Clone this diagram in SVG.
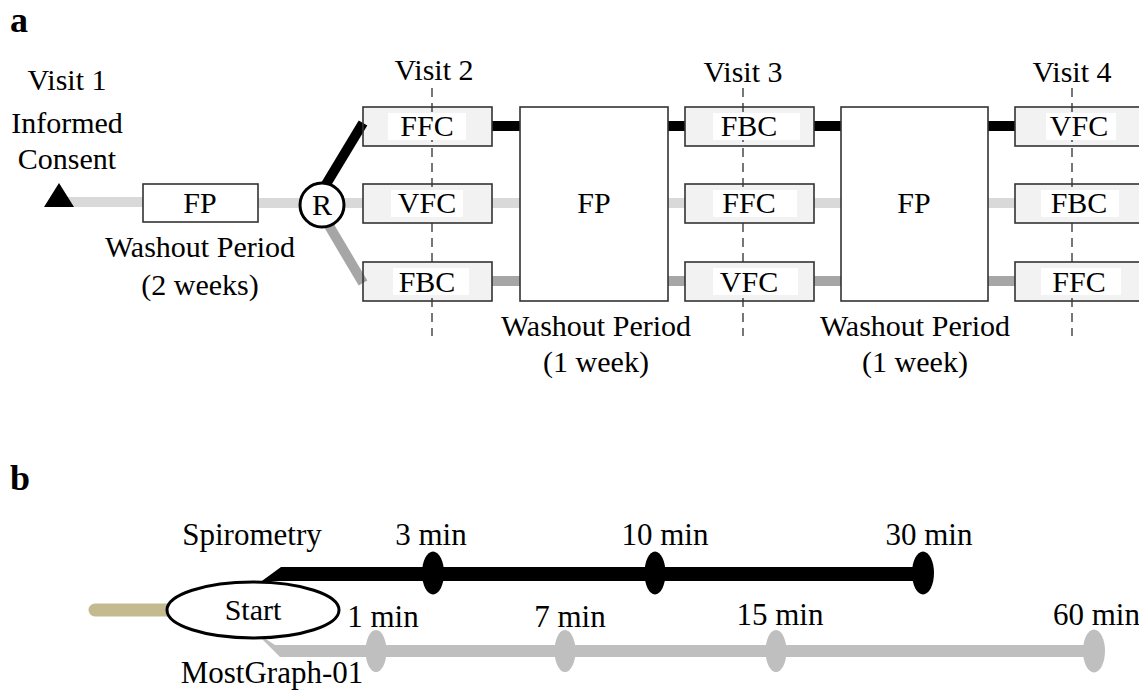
<svg xmlns="http://www.w3.org/2000/svg" width="1139" height="690" viewBox="0 0 1139 690">
<style>
text{font-family:"Liberation Serif","Times New Roman",serif;font-size:30px;fill:#000;text-anchor:middle}
.lbl{font-weight:bold;font-size:36px;text-anchor:start}
.tb{font-size:31px}
.box{fill:#000;fill-opacity:0.05;stroke:#333;stroke-width:1.6}
.big{fill:#fff;stroke:#333;stroke-width:1.6}
.inner{fill:#fff}
.dash{stroke:#555;stroke-width:1.6;stroke-dasharray:9 6;fill:none}
.lt{stroke:#d9d9d9;stroke-width:10;fill:none}
.bk{stroke:#000;stroke-width:10;fill:none}
.dg{stroke:#a6a6a6;stroke-width:10;fill:none}
</style>
<rect width="1139" height="690" fill="#fff"/>
<text class="lbl" x="10" y="32">a</text>
<text class="lbl" x="10" y="490">b</text>
<g id="guides">
<line class="dash" x1="432" y1="88" x2="432" y2="336"/>
<line class="dash" x1="743" y1="88" x2="743" y2="336"/>
<line class="dash" x1="1072" y1="88" x2="1072" y2="336"/>
</g>
<g id="connectors">
<line class="lt" x1="60" y1="202" x2="143" y2="202"/>
<line class="lt" x1="258" y1="203" x2="300" y2="203"/>
<line class="lt" x1="344" y1="203" x2="363" y2="203"/>
<line class="lt" x1="492" y1="203" x2="520" y2="203"/>
<line class="lt" x1="668" y1="203" x2="685" y2="203"/>
<line class="lt" x1="814" y1="203" x2="841" y2="203"/>
<line class="lt" x1="988" y1="203" x2="1015" y2="203"/>
<line class="bk" stroke-width="8" x1="325" y1="186" x2="363" y2="123"/>
<line class="bk" x1="492" y1="126" x2="520" y2="126"/>
<line class="bk" x1="668" y1="126" x2="685" y2="126"/>
<line class="bk" x1="814" y1="126" x2="841" y2="126"/>
<line class="bk" x1="988" y1="126" x2="1015" y2="126"/>
<line class="dg" stroke-width="8" x1="328" y1="224" x2="363" y2="283"/>
<line class="dg" x1="492" y1="281" x2="520" y2="281"/>
<line class="dg" x1="668" y1="281" x2="685" y2="281"/>
<line class="dg" x1="814" y1="281" x2="841" y2="281"/>
<line class="dg" x1="988" y1="281" x2="1015" y2="281"/>
<line x1="95" y1="610" x2="170" y2="610" stroke="#c4ba90" stroke-width="13" stroke-linecap="round"/>
<path d="M255 586 L281 567 L923 567 L923 581 L270 581 Z" fill="#000"/>
<path d="M255 632 L280 657 L1094 657 L1094 645 L275 645 Z" fill="#bfbfbf"/>
</g>
<g id="visit1">
<polygon points="44,207 74,207 59,183" fill="#000"/>
<text x="67" y="90">Visit 1</text>
<text x="67" y="133">Informed</text>
<text x="67" y="169">Consent</text>
</g>
<g id="fp0">
<rect class="big" x="143" y="184" width="115" height="38"/>
<text x="200" y="213">FP</text>
<text x="200" y="257">Washout Period</text>
<text x="200" y="295">(2 weeks)</text>
</g>
<g id="rand">
<circle cx="322" cy="205" r="22" fill="#fff" stroke="#000" stroke-width="3"/>
<text x="322" y="215" font-size="27">R</text>
</g>
<text x="434" y="80">Visit 2</text>
<text x="743" y="82">Visit 3</text>
<text x="1072" y="82">Visit 4</text>
<g id="v2-ffc"><rect class="box" x="363" y="107" width="129" height="39"/><rect class="inner" x="388" y="113" width="78" height="27"/><text x="427" y="136">FFC</text></g>
<g id="v2-vfc"><rect class="box" x="363" y="184" width="129" height="39"/><rect class="inner" x="391" y="190" width="72" height="27"/><text x="427" y="213">VFC</text></g>
<g id="v2-fbc"><rect class="box" x="363" y="262" width="129" height="39"/><rect class="inner" x="393" y="268" width="76" height="27"/><text x="427" y="292">FBC</text></g>
<g id="fp1">
<rect class="big" x="520" y="107" width="148" height="194"/>
<text x="594" y="213">FP</text>
<text x="596" y="336">Washout Period</text>
<text x="596" y="372">(1 week)</text>
</g>
<g id="v3-fbc"><rect class="box" x="685" y="107" width="129" height="39"/><rect class="inner" x="713" y="113" width="87" height="27"/><text x="749" y="136">FBC</text></g>
<g id="v3-ffc"><rect class="box" x="685" y="184" width="129" height="39"/><rect class="inner" x="713" y="190" width="84" height="27"/><text x="749" y="213">FFC</text></g>
<g id="v3-vfc"><rect class="box" x="685" y="262" width="129" height="39"/><rect class="inner" x="713" y="268" width="85" height="27"/><text x="749" y="292">VFC</text></g>
<g id="fp2">
<rect class="big" x="841" y="107" width="147" height="194"/>
<text x="914" y="213">FP</text>
<text x="915" y="336">Washout Period</text>
<text x="915" y="372">(1 week)</text>
</g>
<g id="v4-vfc"><rect class="box" x="1015" y="107" width="129" height="39"/><rect class="inner" x="1046" y="113" width="70" height="27"/><text x="1079" y="136">VFC</text></g>
<g id="v4-fbc"><rect class="box" x="1015" y="184" width="129" height="39"/><rect class="inner" x="1041" y="190" width="78" height="27"/><text x="1079" y="213">FBC</text></g>
<g id="v4-ffc"><rect class="box" x="1015" y="262" width="129" height="39"/><rect class="inner" x="1041" y="268" width="80" height="27"/><text x="1079" y="292">FFC</text></g>
<g id="start">
<ellipse cx="253" cy="610" rx="86" ry="28" fill="#fff" stroke="#000" stroke-width="3"/>
<text x="253" y="620">Start</text>
</g>
<text class="tb" x="252" y="545">Spirometry</text>
<text class="tb" x="272" y="683">MostGraph-01</text>
<g id="s3"><ellipse cx="433" cy="573" rx="11" ry="21.5" fill="#000"/><text class="tb" x="431" y="545">3 min</text></g>
<g id="s10"><ellipse cx="655" cy="573" rx="10.5" ry="21.5" fill="#000"/><text class="tb" x="665" y="545">10 min</text></g>
<g id="s30"><ellipse cx="923" cy="573" rx="11" ry="21.5" fill="#000"/><text class="tb" x="929" y="545">30 min</text></g>
<g id="m1"><ellipse cx="376" cy="651" rx="10.5" ry="21" fill="#bfbfbf"/><text class="tb" x="383" y="627">1 min</text></g>
<g id="m7"><ellipse cx="565" cy="651" rx="10.5" ry="21" fill="#bfbfbf"/><text class="tb" x="570" y="627">7 min</text></g>
<g id="m15"><ellipse cx="776" cy="651" rx="10.5" ry="21" fill="#bfbfbf"/><text class="tb" x="780" y="625">15 min</text></g>
<g id="m60"><ellipse cx="1094" cy="651" rx="11" ry="21.5" fill="#bfbfbf"/><text class="tb" x="1053" y="625" style="text-anchor:start">60 min</text></g>
</svg>
